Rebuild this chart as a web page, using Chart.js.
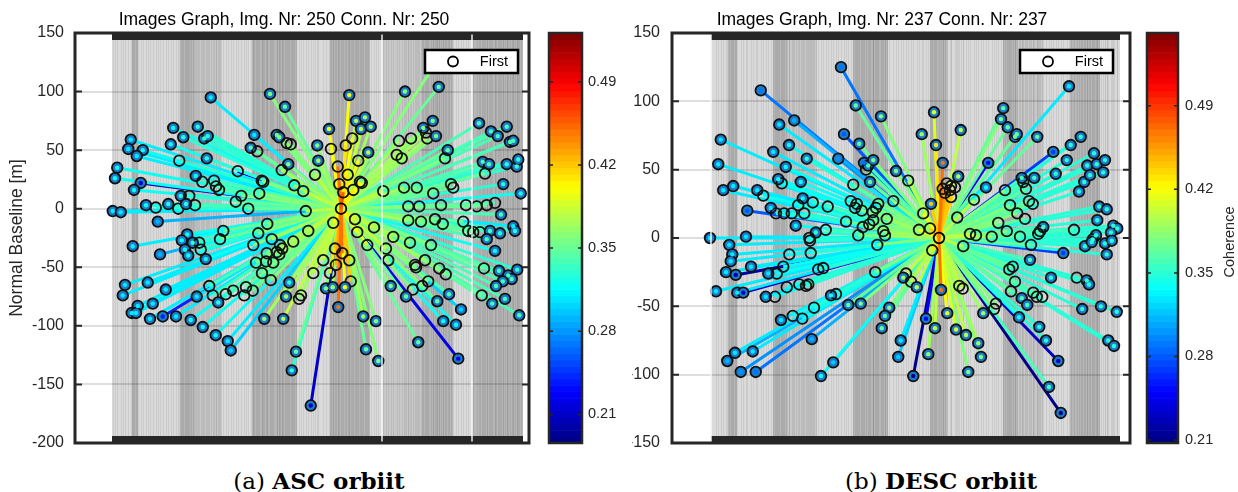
<!DOCTYPE html>
<html>
<head>
<meta charset="utf-8">
<script src="https://cdn.jsdelivr.net/npm/chart.js@4.4.1/dist/chart.umd.min.js"></script>
<style>
  body { margin: 0; background: #fff; width: 1238px; height: 492px; overflow: hidden; position: relative; }
  canvas { position: absolute; top: 0; }
  #ascChart { left: 0; }
  #descChart { left: 632px; }
  .caption { position: absolute; top: 468px; line-height: 26px; font-family: "DejaVu Serif", serif; font-size: 23px; white-space: nowrap; transform: translateX(-50%); color: #000; }
</style>
</head>
<body>
<canvas id="ascChart" width="620" height="460"></canvas>
<canvas id="descChart" width="606" height="460"></canvas>
<div class="caption" style="left:319px">(a) <b>ASC orbiit</b></div>
<div class="caption" style="left:941px">(b) <b>DESC orbiit</b></div>
<script>
"use strict";

// ---- ASC orbit: days since first acquisition, normal baseline [m], coherence with master, marker filled ----
const ascDays = [391,628,688,71,61,119,95,241,281,231,339,365,379,265,375,565,551,577,655,665,695,711,817,701,675,821,808,17,8,111,84,499,331,357,404,412,424,595,601,725,761,585,513,491,271,305,132,171,221,261,292,328,541,771,-1,31,179,617,
  945,1168,1303,972,1008,992,1031,864,957,872,931,1021,981,899,939,905,988,995,961,921,1081,1144,1192,1241,1279,1252,1257,1292,1135,1155,1339,1328,1464,1512,1539,1575,1588,1601,1479,1504,1488,1575,1615,1621,1561,1631,1352,1361,1281,1164,1215,1528,1412,1455,1495,1181,1225,1312,1552,1601,881,968,1044,1181,1232,1288,1319,1401,1296,
  781,721,581,441,428,561,79,188,297,275,319,345,288,301,351,371,635,668,677,655,615,665,641,612,572,801,596,631,48,39,139,211,385,399,421,335,451,481,532,525,559,705,692,744,752,99,75,92,159,148,199,252,311,359,411,459,471,605,681,732,715,791,
  977,1121,1017,1092,1101,888,917,945,892,841,868,951,852,879,928,901,1001,1052,1012,1061,1188,1272,1248,1208,1212,1305,1331,1261,1237,1199,1172,1111,1344,1297,1392,1321,1372,1221,1381,1421,1441,1468,1508,1495,1548,1608,1528,1484,1544,1581,1595,1559,1532,1617,1475,1517,1568,1625];
const ascBaseline = [95,98,87,59,51,50,45,69,61,55,70,60,62,41,43,63,52,49,63,61,56,55,54,38,33,41,29,35,26,22,16,32,28,23,24,19,16,24,23,20,15,13,11,6,11,11,3,1,4,0,4,3,0,-2,-2,-3,-11,-13,
  97,100,104,75,78,68,70,68,60,51,54,48,41,36,29,21,23,22,16,14,15,58,60,69,75,65,60,62,46,43,50,43,73,66,62,70,57,58,40,38,30,38,36,42,21,13,21,18,13,18,18,5,3,2,3,2,2,3,-5,-15,-12,-9,-16,-10,-11,-9,-13,-11,126,
  -19,-28,-21,-19,-26,-31,-32,-39,-22,-27,-29,-29,-35,-40,-35,-43,-26,-31,-34,-37,-38,-39,-46,-45,-46,-55,-55,-61,-65,-74,-63,-69,-66,-74,-80,-75,-73,-70,-67,-74,-70,-63,-75,-77,-74,-83,-89,-89,-81,-94,-92,-92,-95,-101,-108,-113,-121,-94,-94,-122,-138,-168,
  -20,-24,-31,-34,-44,-34,-38,-44,-48,-44,-55,-62,-68,-67,-67,-84,-92,-96,-120,-130,-29,-31,-44,-48,-50,-51,-56,-62,-66,-69,-75,-66,-73,-79,-86,-96,-99,-114,-128,-19,-20,-20,-19,-26,-21,-19,-36,-51,-53,-57,-60,-62,-66,-52,-74,-81,-77,-91];
const ascCoherence = [.31,.36,.35,.31,.31,.32,.31,.32,.33,.32,.33,.33,.33,.33,.33,.31,.34,.35,.35,.36,.36,.36,.36,.36,.37,.37,.38,.32,.32,.21,.32,.22,.32,.33,.34,.34,.34,.36,.36,.37,.38,.36,.36,.35,.33,.33,.32,.33,.33,.33,.33,.34,.35,.38,.31,.31,.29,.36,
  .40,.36,.35,.38,.37,.38,.37,.40,.40,.39,.41,.38,.40,.45,.41,.45,.40,.40,.41,.46,.38,.37,.37,.36,.36,.37,.37,.36,.37,.37,.35,.36,.34,.34,.34,.34,.34,.34,.34,.34,.35,.33,.33,.33,.33,.32,.35,.35,.35,.37,.36,.34,.35,.35,.35,.36,.36,.35,.34,.31,.40,.39,.38,.37,.36,.36,.35,.35,.36,
  .38,.37,.36,.35,.35,.36,.31,.29,.32,.32,.33,.33,.32,.32,.33,.32,.37,.37,.37,.37,.36,.37,.36,.36,.36,.38,.36,.36,.31,.31,.31,.31,.34,.34,.33,.31,.34,.34,.35,.35,.35,.33,.37,.36,.37,.31,.31,.31,.31,.31,.24,.31,.32,.32,.32,.31,.30,.37,.38,.35,.33,.21,
  .40,.37,.39,.38,.37,.42,.45,.42,.43,.38,.41,.42,.36,.37,.40,.45,.37,.36,.35,.36,.37,.36,.37,.36,.36,.36,.36,.36,.36,.36,.35,.36,.34,.35,.30,.32,.32,.35,.22,.35,.35,.35,.34,.34,.33,.33,.32,.35,.34,.34,.34,.34,.34,.33,.35,.34,.34,.34];
const ascFilled = [1,1,1,1,1,1,1,1,1,1,1,1,1,0,1,1,1,0,1,1,0,0,1,1,0,1,0,1,1,1,1,0,1,0,0,0,0,0,0,0,0,0,0,0,1,0,1,0,1,0,1,0,0,0,1,1,1,0,
  1,1,1,1,1,1,1,1,0,0,0,1,0,0,0,0,0,0,0,0,0,0,0,1,1,0,0,1,0,0,1,0,1,1,1,1,1,1,1,1,0,1,1,1,1,1,0,0,0,0,0,0,0,0,0,0,0,0,1,1,0,0,0,0,0,0,0,0,1,
  0,0,0,0,0,0,1,1,1,1,1,0,1,1,0,1,0,0,0,0,0,0,0,0,0,0,0,0,1,1,1,1,0,0,1,1,0,0,0,0,0,1,1,0,0,1,1,1,1,1,1,1,1,1,1,1,1,1,1,1,1,1,
  0,0,0,0,0,0,0,0,0,0,0,0,1,1,1,1,1,1,1,1,0,0,0,0,0,0,0,0,0,0,1,1,1,1,1,1,1,1,1,0,0,0,1,1,1,1,1,0,1,1,1,1,1,1,0,1,1,1];
const ascMaster = { day: 912, baseline: 0 };
const ascDayRange = [-152, 1664];
const ascBaselineRange = [-200, 150];
const ascCohRange = [0.186, 0.531];
const ascBandStart = [-4, 76, 100, 268, 328, 436, 556, 736, 868, 1028, 1076, 1236, 1360, 1436];
const ascBandEnd = [76, 100, 268, 328, 436, 556, 736, 868, 1028, 1076, 1236, 1360, 1436, 1640];
const ascBandLevel = [1, 3, 1, 3, 2, 1, 3, 1, 3, 1, 2, 3, 1, 3];
const ascYearTicks = [1076, 1436];

// ---- DESC orbit ----
const descDays = [520,199,579,333,273,532,593,39,249,312,383,509,29,299,612,629,620,649,269,283,359,569,636,49,89,185,209,367,407,349,239,260,292,323,373,467,559,583,576,603,145,540,607,633,649,339,459,419,589,-4,140,393,
  1432,680,892,1169,1160,1187,843,999,900,1216,1223,1305,1479,1439,1369,1423,1532,927,1109,740,789,989,943,960,976,927,956,936,960,1100,1176,1243,1249,1260,1293,1379,1505,1543,1569,1576,1493,1516,1472,880,849,985,1052,1196,1272,1287,1225,1256,1553,1583,1545,1149,1183,1329,1316,1309,1452,1540,1527,832,876,729,669,660,647,703,1036,1060,1123,1236,689,696,
  73,85,79,60,99,20,105,129,160,229,263,289,313,219,256,303,353,380,389,396,399,429,449,480,500,412,549,599,657,665,280,327,365,403,96,65,167,119,179,440,489,683,
  885,1009,1280,1409,1496,1523,1576,1583,1276,1193,1207,1216,1360,1463,1503,1512,780,769,800,823,920,993,1007,1200,1243,1265,1289,1303,1325,1140,1132,1089,945,713,696,860,896,980,1020,1069,1080,759,749,869,809,1029,1232,1313,1340,1389,1352,1399,1485,1560,1589,1612,1609,1625,1600,1623,1603];
const descBaseline = [125,108,97,86,83,76,69,72,63,68,58,58,54,52,55,53,50,57,43,40,41,39,41,35,38,35,31,29,26,24,22,18,18,18,18,23,27,25,22,20,20,12,8,10,13,9,6,4,2,0,1,0,
  111,89,92,95,87,81,76,79,68,74,76,74,74,68,63,57,62,55,55,49,42,45,40,38,37,36,35,33,30,37,35,44,41,36,44,47,53,54,48,57,41,46,34,25,18,15,28,24,27,25,18,14,23,21,13,11,5,8,5,3,6,2,-1,6,7,27,25,22,19,14,3,2,1,1,5,2,
  -5,-12,-17,-25,-27,-39,-40,-40,-21,-26,-26,-21,-12,-43,-43,-36,-34,-35,-34,-2,-11,-23,-22,-42,-41,-51,-49,-48,-25,-5,-60,-57,-59,-74,-84,-90,-83,-98,-98,-101,-91,-66,
  -9,-6,-5,-11,-6,-3,-4,-12,-16,-23,-21,-32,-29,-29,-31,-34,-26,-29,-32,-36,-38,-35,-37,-39,-44,-49,-40,-43,-43,-48,-52,-55,-55,-51,-57,-59,-66,-67,-71,-77,-87,-75,-87,-85,-101,-98,-58,-65,-75,-90,-109,-128,-52,-50,-75,-79,9,7,4,-54,-2];
const descCoherence = [.29,.29,.37,.31,.33,.28,.37,.33,.33,.34,.35,.30,.33,.34,.29,.36,.37,.38,.34,.34,.34,.37,.37,.33,.33,.33,.34,.34,.35,.35,.33,.34,.34,.35,.35,.36,.37,.37,.37,.38,.28,.37,.38,.38,.38,.34,.36,.35,.38,.33,.33,.35,
  .33,.38,.41,.37,.38,.37,.39,.40,.43,.37,.37,.37,.35,.35,.27,.35,.35,.47,.25,.38,.40,.40,.45,.44,.43,.46,.44,.45,.44,.34,.38,.36,.36,.37,.36,.35,.35,.35,.35,.35,.35,.35,.35,.44,.42,.40,.40,.38,.37,.37,.38,.37,.35,.35,.35,.38,.38,.36,.36,.36,.36,.35,.35,.42,.44,.39,.38,.38,.38,.39,.40,.40,.39,.37,.39,.39,
  .33,.33,.33,.33,.22,.33,.33,.23,.33,.33,.34,.34,.34,.33,.34,.34,.35,.35,.35,.35,.35,.35,.35,.34,.35,.35,.37,.38,.38,.38,.33,.34,.34,.31,.33,.31,.33,.30,.29,.34,.32,.37,
  .43,.40,.37,.27,.35,.35,.35,.35,.36,.37,.37,.37,.35,.35,.35,.35,.40,.39,.40,.40,.47,.40,.40,.37,.36,.36,.36,.36,.36,.38,.38,.39,.42,.38,.37,.25,.40,.41,.40,.39,.38,.33,.32,.39,.21,.38,.34,.35,.35,.23,.36,.21,.35,.35,.35,.35,.35,.35,.35,.35,.35];
const descFilled = [1,1,1,1,1,1,1,1,1,1,1,1,1,1,1,1,0,1,1,0,1,0,1,1,1,1,0,1,0,0,1,0,0,0,0,0,0,0,0,0,1,0,0,0,0,1,0,1,0,1,1,0,
  1,1,1,1,1,1,1,1,1,1,1,1,1,1,1,1,1,1,1,1,0,1,0,0,0,0,0,0,0,1,0,1,0,0,1,1,1,1,1,1,1,1,1,1,0,0,0,0,0,0,0,0,1,1,1,0,0,1,0,0,0,1,1,0,0,0,0,0,0,0,0,0,0,0,0,0,
  1,1,1,1,1,1,1,1,1,1,0,0,0,1,0,0,0,0,0,0,0,0,0,1,0,0,1,1,0,0,1,0,0,1,1,1,1,1,1,1,1,1,
  0,0,0,1,1,1,1,1,1,0,0,0,1,0,1,1,0,1,0,1,1,0,0,0,1,1,0,0,0,0,0,1,1,1,1,1,1,1,1,1,1,1,1,1,1,1,1,1,1,1,1,1,1,1,1,1,1,1,1,1,1];
const descMaster = { day: 912, baseline: 0 };
const descDayRange = [-156, 1676];
const descBaselineRange = [-150, 150];
const descCohRange = [0.2075, 0.551];
const descBandStart = [0, 68, 104, 248, 304, 424, 568, 708, 876, 944, 1168, 1224, 1328, 1436, 1556];
const descBandEnd = [68, 104, 248, 304, 424, 568, 708, 876, 944, 1168, 1224, 1328, 1436, 1556, 1636];
const descBandLevel = [1, 3, 1, 3, 2, 1, 3, 1, 3, 1, 3, 2, 1, 3, 1];
const descYearTicks = [0];

const cohTicks = [0.21, 0.28, 0.35, 0.42, 0.49];

Chart.defaults.font.family = '"Liberation Sans", Arial, sans-serif';
Chart.defaults.color = "#262626";

const bandShades = { 1: "#dadada", 2: "#c8c8c8", 3: "#b6b6b6" };
const markerBlue = "#1b7ccc";
const dark = "#262626";

// matlab jet colormap
function jet(v, range) {
  const t = Math.min(1, Math.max(0, (v - range[0]) / (range[1] - range[0])));
  const c = k => Math.round(255 * Math.min(1, Math.max(0, 1.5 - Math.abs(4 * t - k))));
  return "rgb(" + c(3) + "," + c(2) + "," + c(1) + ")";
}

function orbitPlugin(o) {
  return {
    id: "orbit" + o.name,
    beforeDraw(chart) {
      const { ctx, chartArea: a, scales: { x } } = chart;
      ctx.save();
      o.bandStart.forEach((s, i) => {
        const x0 = x.getPixelForValue(s);
        const x1 = x.getPixelForValue(o.bandEnd[i]);
        ctx.fillStyle = bandShades[o.bandLevel[i]];
        ctx.fillRect(x0, a.top, x1 - x0, a.height);
      });
      // one faint line per acquisition date
      ctx.strokeStyle = "rgba(60,60,60,0.09)";
      ctx.lineWidth = 1;
      o.days.concat([o.master.day]).forEach(d => {
        const px = Math.round(x.getPixelForValue(d)) + 0.5;
        ctx.beginPath();
        ctx.moveTo(px, a.top);
        ctx.lineTo(px, a.bottom);
        ctx.stroke();
      });
      ctx.restore();
    },
    afterDraw(chart) {
      const { ctx, chartArea: a, scales: { x, y, cb } } = chart;
      ctx.save();
      // dense date ticks at top and bottom
      const x0 = x.getPixelForValue(o.bandStart[0]);
      const x1 = x.getPixelForValue(o.bandEnd[o.bandEnd.length - 1]);
      ctx.fillStyle = dark;
      ctx.fillRect(x0, a.top, x1 - x0, 7);
      ctx.fillRect(x0, a.bottom - 7, x1 - x0, 7);
      ctx.strokeStyle = "rgba(255,255,255,0.9)";
      ctx.lineWidth = 1.5;
      o.yearTicks.forEach(d => {
        const px = x.getPixelForValue(d);
        ctx.beginPath();
        ctx.moveTo(px, a.top);
        ctx.lineTo(px, a.bottom);
        ctx.stroke();
      });

      // axes box
      ctx.strokeStyle = dark;
      ctx.lineWidth = 3;
      ctx.strokeRect(a.left, a.top, a.width, a.height);
      ctx.lineWidth = 2;
      y.ticks.forEach(t => {
        const py = y.getPixelForValue(t.value);
        ctx.beginPath();
        ctx.moveTo(a.left, py);
        ctx.lineTo(a.left + 7, py);
        ctx.moveTo(a.right - 7, py);
        ctx.lineTo(a.right, py);
        ctx.stroke();
      });

      // colorbar
      const cx = a.right + o.cbGap;
      const lo = o.cohRange[0], hi = o.cohRange[1];
      for (let i = 0; i < 64; i++) {
        const v0 = lo + (hi - lo) * i / 64;
        const v1 = lo + (hi - lo) * (i + 1) / 64;
        const p0 = cb.getPixelForValue(v0);
        const p1 = cb.getPixelForValue(v1);
        ctx.fillStyle = jet((v0 + v1) / 2, o.cohRange);
        ctx.fillRect(cx, p1, o.cbWidth, p0 - p1 + 0.6);
      }
      ctx.strokeStyle = dark;
      ctx.lineWidth = 2.5;
      ctx.strokeRect(cx, cb.top, o.cbWidth, cb.bottom - cb.top);
      ctx.lineWidth = 1.5;
      cb.ticks.forEach(t => {
        const py = cb.getPixelForValue(t.value);
        ctx.beginPath();
        ctx.moveTo(cx, py);
        ctx.lineTo(cx + 4, py);
        ctx.moveTo(cx + o.cbWidth - 4, py);
        ctx.lineTo(cx + o.cbWidth, py);
        ctx.stroke();
      });
      if (o.cbTitle) {
        ctx.save();
        ctx.translate(o.cbTitleX, (cb.top + cb.bottom) / 2 + 4);
        ctx.rotate(-Math.PI / 2);
        ctx.fillStyle = dark;
        ctx.font = '14.5px "Liberation Sans", Arial, sans-serif';
        ctx.textAlign = "center";
        ctx.textBaseline = "middle";
        ctx.fillText(o.cbTitle, 0, 0);
        ctx.restore();
      }

      // legend
      const lr = a.right - o.legendInset;
      const ll = lr - 93;
      ctx.fillStyle = "#fff";
      ctx.fillRect(ll, 50, 93, 23);
      ctx.strokeStyle = "#000";
      ctx.lineWidth = 2.5;
      ctx.strokeRect(ll, 50, 93, 23);
      ctx.lineWidth = 1.8;
      ctx.beginPath();
      ctx.arc(ll + 28, 61.5, 5, 0, Math.PI * 2);
      ctx.stroke();
      ctx.fillStyle = "#000";
      ctx.font = '14.5px "Liberation Sans", Arial, sans-serif';
      ctx.textAlign = "right";
      ctx.textBaseline = "middle";
      ctx.fillText("First", lr - 10, 62);

      // title
      ctx.font = '17.5px "Liberation Sans", Arial, sans-serif';
      ctx.textAlign = "center";
      ctx.fillText(o.title, o.titleX, 20);
      ctx.restore();
    }
  };
}

function makeOrbitChart(canvasId, o) {
  const order = o.days.map((d, i) => i).sort((p, q) => o.coh[p] - o.coh[q]);
  const lineColors = order.map(i => jet(o.coh[i], o.cohRange));
  const star = [];
  order.forEach(i => {
    star.push({ x: o.master.day, y: o.master.baseline });
    star.push({ x: o.days[i], y: o.base[i] });
    star.push({ x: o.master.day, y: null });
  });
  const points = o.days.map((d, i) => ({ x: d, y: o.base[i] }));
  const filledIdx = o.days.map((d, i) => i).filter(i => o.filled[i]);

  return new Chart(document.getElementById(canvasId), {
    type: "scatter",
    data: {
      datasets: [
        {
          label: "links",
          data: star,
          showLine: true,
          spanGaps: false,
          pointRadius: 0,
          borderWidth: 3,
          borderColor: "#888",
          segment: {
            borderColor: ctx => lineColors[Math.floor(ctx.p1DataIndex / 3)]
          },
          order: 4
        },
        {
          label: "images",
          data: points,
          pointRadius: 5.3,
          pointBorderWidth: 1.8,
          pointBorderColor: "#111",
          pointBackgroundColor: o.filled.map(f => (f ? markerBlue : "rgba(0,0,0,0)")),
          order: 3
        },
        {
          label: "link ends",
          data: filledIdx.map(i => points[i]),
          pointRadius: 2.2,
          pointBorderWidth: 0,
          pointBackgroundColor: filledIdx.map(i => jet(o.coh[i], o.cohRange)),
          order: 2
        },
        {
          label: "First",
          data: [{ x: o.master.day, y: o.master.baseline }],
          pointRadius: 5.3,
          pointBorderWidth: 1.8,
          pointBorderColor: "#000",
          pointBackgroundColor: "rgba(0,0,0,0)",
          order: 1
        }
      ]
    },
    options: {
      responsive: false,
      animation: false,
      events: [],
      layout: { padding: { top: 33, bottom: 17, left: 0, right: 0 } },
      plugins: { legend: { display: false }, tooltip: { enabled: false }, title: { display: false } },
      scales: {
        x: { type: "linear", min: o.dayRange[0], max: o.dayRange[1], display: false },
        y: {
          position: "left",
          min: o.baseRange[0],
          max: o.baseRange[1],
          ticks: { stepSize: 50, padding: o.yPad, font: { size: 16 } },
          grid: { color: "rgba(0,0,0,0.13)", lineWidth: 2, drawTicks: false },
          border: { display: false },
          title: {
            display: !!o.yTitle,
            text: o.yTitle || "",
            font: { size: 17.5 },
            padding: { top: 7, bottom: 0 }
          },
          afterFit: s => { s.width = o.yWidth; s.paddingTop = 0; s.paddingBottom = 0; }
        },
        cb: {
          position: "right",
          min: o.cohRange[0],
          max: o.cohRange[1],
          afterBuildTicks: s => { s.ticks = cohTicks.map(v => ({ value: v })); },
          ticks: { padding: o.cbPad, font: { size: 14.5 }, callback: v => v.toFixed(2) },
          grid: { display: false, drawTicks: false },
          border: { display: false },
          afterFit: s => { s.width = o.cbAxisWidth; s.paddingTop = 0; s.paddingBottom = 0; }
        }
      }
    },
    plugins: [orbitPlugin(o)]
  });
}

makeOrbitChart("ascChart", {
  name: "Asc",
  days: ascDays, base: ascBaseline, coh: ascCoherence, filled: ascFilled, master: ascMaster,
  dayRange: ascDayRange, baseRange: ascBaselineRange, cohRange: ascCohRange,
  bandStart: ascBandStart, bandEnd: ascBandEnd, bandLevel: ascBandLevel, yearTicks: ascYearTicks,
  title: "Images Graph, Img. Nr: 250 Conn. Nr: 250", titleX: 284,
  yTitle: "Normal Baseline [m]", yWidth: 75, yPad: 11,
  cbAxisWidth: 91, cbPad: 59, cbGap: 20, cbWidth: 33, cbTitle: "", legendInset: 11
});

makeOrbitChart("descChart", {
  name: "Desc",
  days: descDays, base: descBaseline, coh: descCoherence, filled: descFilled, master: descMaster,
  dayRange: descDayRange, baseRange: descBaselineRange, cohRange: descCohRange,
  bandStart: descBandStart, bandEnd: descBandEnd, bandLevel: descBandLevel, yearTicks: descYearTicks,
  title: "Images Graph, Img. Nr: 237 Conn. Nr: 237", titleX: 250,
  yTitle: "", yWidth: 40, yPad: 12,
  cbAxisWidth: 108, cbPad: 55, cbGap: 17, cbWidth: 31, cbTitle: "Coherence", cbTitleX: 598, legendInset: 17
});
</script>
</body>
</html>
